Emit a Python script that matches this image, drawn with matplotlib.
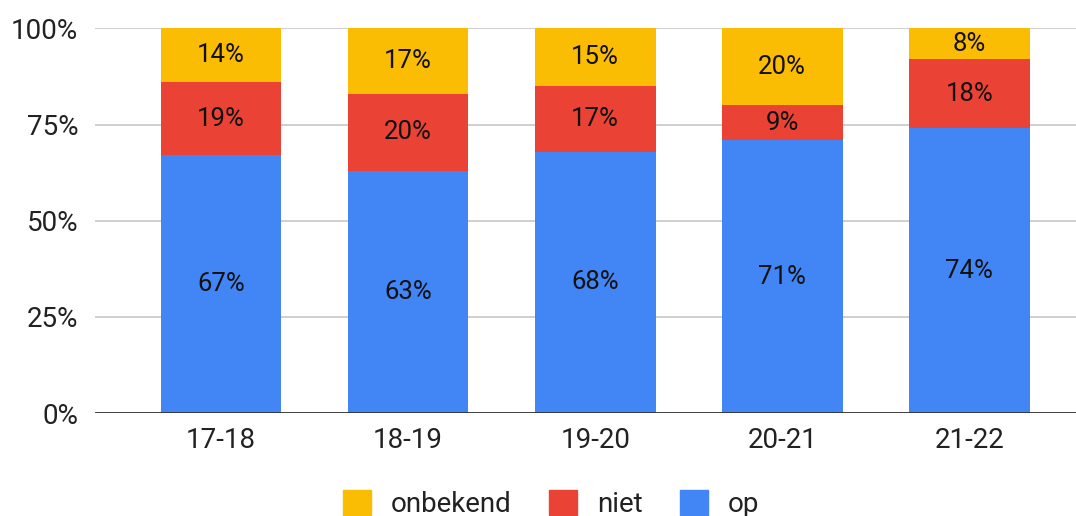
import numpy as np
import matplotlib.pyplot as plt
from matplotlib.patches import Patch

plt.rcParams['font.family'] = ['Roboto', 'DejaVu Sans']

# data
years = ['17-18', '18-19', '19-20', '20-21', '21-22']
op = [67, 63, 68, 71, 74]
niet = [19, 20, 17, 9, 18]
onbekend = [14, 17, 15, 20, 8]

c_op = '#4285F4'
c_niet = '#EA4335'
c_onb = '#FBBC04'

fig = plt.figure(figsize=(10.76, 5.16), dpi=100)
ax = fig.add_axes([0.0883, 0.1996, 0.9117, 0.7452])

x = np.arange(len(years))
w = 0.645
op_a = np.array(op)
niet_a = np.array(niet)
onb_a = np.array(onbekend)

ax.bar(x, op_a, w, color=c_op, zorder=3)
ax.bar(x, niet_a, w, bottom=op_a, color=c_niet, zorder=3)
ax.bar(x, onb_a, w, bottom=op_a + niet_a, color=c_onb, zorder=3)

# labels in the middle of each segment
fs_lab = 18.5
fs = 20
for i in range(len(years)):
    ax.text(x[i], op_a[i] / 2, f'{op[i]}%', ha='center', va='center', fontsize=fs_lab, color='#111111', zorder=4)
    ax.text(x[i], op_a[i] + niet_a[i] / 2, f'{niet[i]}%', ha='center', va='center', fontsize=fs_lab, color='#111111', zorder=4)
    ax.text(x[i], op_a[i] + niet_a[i] + onb_a[i] / 2, f'{onbekend[i]}%', ha='center', va='center', fontsize=fs_lab, color='#111111', zorder=4)

ax.set_xlim(-0.674, 4.57)
ax.set_ylim(0, 100)
ax.set_yticks([0, 25, 50, 75, 100])
ax.set_yticklabels(['0%', '25%', '50%', '75%', '100%'])
ax.set_xticks(x)
ax.set_xticklabels(years)
ax.tick_params(axis='both', length=0, labelsize=fs, colors='#222222')
ax.tick_params(axis='y', pad=12)
ax.tick_params(axis='x', pad=10)
ax.grid(axis='y', color='#cccccc', linewidth=1.3, zorder=0)
ax.axhline(0, color='#333333', linewidth=2, zorder=5)
for s in ax.spines.values():
    s.set_visible(False)

handles = [Patch(color=c_onb, label='onbekend'),
           Patch(color=c_niet, label='niet'),
           Patch(color=c_op, label='op')]
fig.legend(handles=handles, loc='center', bbox_to_anchor=(0.5125, 0.024), ncol=3, frameon=False,
           fontsize=fs, handlelength=1.0, handleheight=1.0, columnspacing=1.35, handletextpad=0.72,
           labelcolor='#222222', borderpad=0, borderaxespad=0)

fig.savefig('out.png', dpi=100)
